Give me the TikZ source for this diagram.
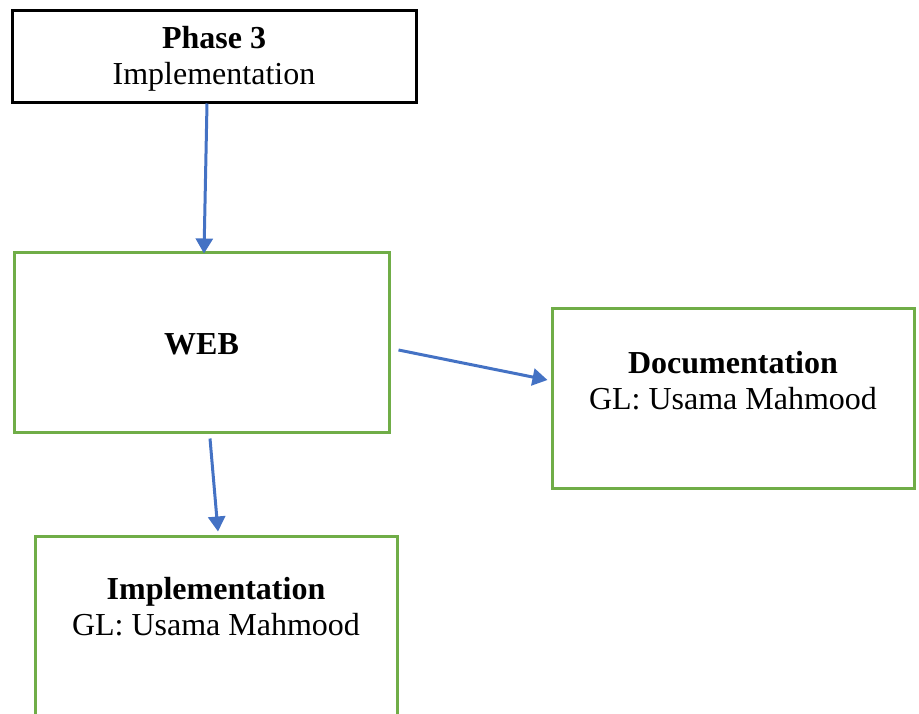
\documentclass[tikz,border=0pt]{standalone}
\usepackage{fontspec}
\setmainfont{Liberation Serif}
\usetikzlibrary{arrows.meta,calc}
\definecolor{boxgreen}{HTML}{70AD47}
\definecolor{arrblue}{HTML}{4472C4}
\begin{document}
\begin{tikzpicture}[x=1pt, y=-1pt,
		box/.style = {draw, line width=3pt, inner sep=0pt},
		gbox/.style = {box, boxgreen},
		txt/.style = {align=center, font=\fontsize{32}{36}\selectfont, inner sep=0pt},
		arr/.style = {arrblue, line width=3pt, -{Triangle[width=17pt,length=15pt]}}]
		\useasboundingbox (0,0) rectangle (919,713);
		
		\node[box, minimum width=404pt, minimum height=92pt] (phase) at (214,56) {};
		\node[gbox, minimum width=375pt, minimum height=180pt] (web) at (201.5,342) {};
		\node[gbox, minimum width=362pt, minimum height=180pt] (doc) at (733,398) {};
		\node[gbox, minimum width=362pt, minimum height=190pt] (impl) at (216,631) {};
		
		\node[txt] (phasetxt) at ($(phase.center)+(0,3)$) {\textbf{Phase 3}\\Implementation};
		\node[txt] (webtxt) at ($(web.center)+(0,2)$) {\textbf{WEB}};
		\node[txt] (doctxt) at ($(doc.north)+(0,74)$) {\textbf{Documentation}\\GL: Usama Mahmood};
		\node[txt] (impltxt) at ($(impl.north)+(0,72)$) {\textbf{Implementation}\\GL: Usama Mahmood};
		
		\coordinate (a1) at ($(phase.south)+(-7,0)$);
		\coordinate (b1) at ($(web.north)+(2.5,3)$);
		\coordinate (a2) at ($(web.east)+(8,8)$);
		\coordinate (b2) at ($(doc.west)+(-3,-18)$);
		\coordinate (a3) at ($(web.south)+(8.5,5)$);
		\coordinate (b3) at ($(impl.north)+(2,-3)$);
		
		\draw[arr] (a1) -- (b1);
		\draw[arr] (a2) -- (b2);
		\draw[arr] (a3) -- (b3);
	\end{tikzpicture}
\end{document}
